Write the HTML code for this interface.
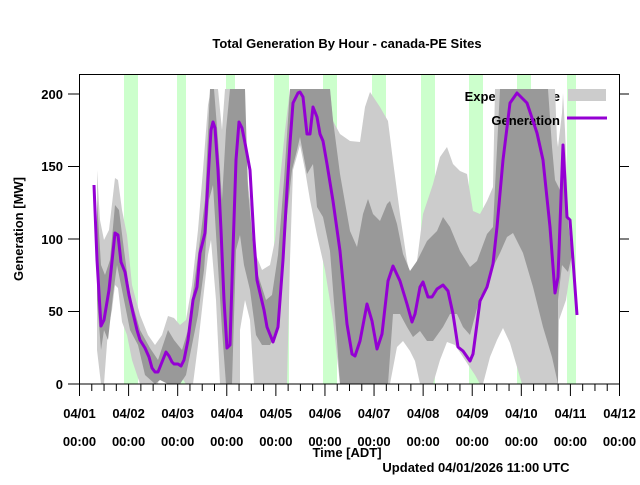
<!DOCTYPE html>
<html><head><meta charset="utf-8"><style>
body{margin:0;background:#fff}
svg text{font-family:"Liberation Sans Narrow","Liberation Sans",sans-serif;font-weight:bold;font-size:13px;fill:#000}
</style></head><body>
<svg width="640" height="480" xmlns="http://www.w3.org/2000/svg">
<rect width="640" height="480" fill="#fff"/>
<g fill="#ccffcc">
<rect x="124" y="75" width="14" height="309"/>
<rect x="177" y="75" width="9" height="309"/>
<rect x="226" y="75" width="9" height="309"/>
<rect x="274" y="75" width="15" height="309"/>
<rect x="323" y="75" width="14" height="309"/>
<rect x="372" y="75" width="14" height="309"/>
<rect x="421" y="75" width="14" height="309"/>
<rect x="469" y="75" width="14" height="309"/>
<rect x="517" y="75" width="14" height="309"/>
<rect x="567" y="75" width="9" height="309"/>
</g>
<text x="560" y="101" text-anchor="end">Expected Value</text>
<polygon fill="#cccccc" points="97,170 100,220 104,240 109,230 115,178 118,180 122,210 127,235 132,285 140,315 148,335 155,345 162,335 168,316 174,318 180,325 186,320 192,285 198,230 203,170 208,105 211,89 218,89 222,130 225,89 236,89 245,160 250,200 256,255 262,270 270,265 275,240 280,180 285,130 290,89 330,89 333,121 340,134 350,141 360,142 365,107 370,92 380,107 388,121 393,161 400,214 407,261 410,274 417,261 423,214 433,184 440,157 447,147 453,164 460,171 467,174 473,211 480,214 487,201 493,187 495,89 555,89 557,140 558,147 562,113 563,93 565,130 567,180 568,213 570,247 572,260 566,300 559,320 558,384 522,384 517,367 510,343 503,328 497,340 490,357 483,384 480,384 475,375 465,360 455,345 447,342 440,360 433,384 420,384 415,361 410,351 403,341 397,347 390,384 340,384 333,320 325,270 317,235 310,200 305,170 300,145 293,170 290,260 287,384 254,384 250,320 245,300 240,330 240,384 220,384 216,300 211,240 208,255 203,300 198,345 193,384 186,384 178,372 170,355 160,372 158,384 140,384 132,360 127,335 122,322 118,288 115,285 112,310 108,330 104,384 101,384 97,350"/>
<polygon fill="#999999" points="97,200 101,265 105,275 110,260 115,205 119,210 124,250 130,295 140,330 150,348 158,360 163,345 168,330 174,340 182,350 188,330 194,285 200,240 205,200 210,89 214,89 218,140 222,200 226,130 230,89 245,89 248,190 253,245 258,275 266,300 272,295 278,255 284,180 290,89 330,89 333,120 340,174 350,231 357,247 363,214 368,199 373,214 380,221 387,204 390,201 397,224 403,254 410,271 417,261 427,241 437,231 443,217 450,227 460,251 470,267 477,261 487,234 493,227 500,89 548,89 552,147 555,180 560,190 563,157 566,197 568,220 570,240 572,255 568,272 562,265 558,300 558,384 552,357 543,327 533,287 523,253 513,233 507,237 500,253 493,267 487,287 480,297 470,335 463,327 457,314 450,314 443,327 433,341 427,341 420,331 413,337 407,327 400,314 393,314 388,384 340,384 337,341 330,251 323,217 317,207 313,164 307,174 300,137 297,150 292,170 287,215 282,290 278,330 270,345 262,345 256,335 250,290 244,265 240,235 236,250 232,384 226,384 222,330 217,250 213,185 209,200 204,270 198,315 192,345 186,375 180,384 168,384 160,380 155,384 145,375 138,345 130,330 122,290 117,265 113,295 108,340 104,330 101,350 97,300"/>
<rect x="568" y="89" width="38" height="12" fill="#cccccc"/>
<text x="560" y="125" text-anchor="end">Generation</text>
<polyline fill="none" stroke="#9400d3" stroke-width="3" stroke-linejoin="round" points="94,185 97,260 101,326 104,320 109,290 115,233 118,235 121,262 125,272 129,295 133,313 137,330 140,340 145,348 149,357 152,368 155,372 158,372 162,362 166,352 169,356 172,362 174,364 178,364 181,366 184,360 188,340 193,300 197,287 200,253 205,233 208,180 211,130 213,122 215,128 218,170 221,230 224,300 227,348 230,345 233,250 236,160 239,122 242,128 245,143 250,170 254,240 257,280 260,293 264,310 267,327 273,342 278,327 283,260 287,190 290,143 293,103 298,93 300,92 303,97 307,134 310,134 313,107 317,117 320,134 323,141 327,164 333,201 340,251 347,324 352,354 355,356 360,341 367,304 372,321 377,349 382,334 388,281 393,266 400,281 407,304 412,322 415,314 420,287 423,282 428,297 432,297 437,289 443,285 448,291 453,314 458,347 463,351 470,361 473,354 480,301 487,287 493,264 497,227 503,160 510,103 517,93 527,103 537,133 543,160 550,227 555,293 558,277 563,145 567,217 570,220 573,260 577,315"/>
<line x1="567" y1="118" x2="607" y2="118" stroke="#9400d3" stroke-width="3"/>
<rect x="79.5" y="74.5" width="540" height="309.5" fill="none" stroke="#000" stroke-width="1"/>
<g stroke="#000" stroke-width="1">
<line x1="68" y1="384" x2="79" y2="384"/><line x1="68" y1="311.5" x2="79" y2="311.5"/><line x1="68" y1="239" x2="79" y2="239"/><line x1="68" y1="166.5" x2="79" y2="166.5"/><line x1="68" y1="94" x2="79" y2="94"/>
<line x1="619" y1="311.5" x2="629" y2="311.5"/><line x1="619" y1="239" x2="629" y2="239"/><line x1="619" y1="166.5" x2="629" y2="166.5"/><line x1="619" y1="94" x2="629" y2="94"/>
</g>
<g stroke="#000" stroke-width="1" id="tk"></g>
<text x="63" y="389" text-anchor="end">0</text>
<text x="63" y="316" text-anchor="end">50</text>
<text x="63" y="244" text-anchor="end">100</text>
<text x="63" y="171" text-anchor="end">150</text>
<text x="63" y="99" text-anchor="end">200</text>
<g text-anchor="middle" id="xl"></g>
<text x="347" y="48" text-anchor="middle">Total Generation By Hour - canada-PE Sites</text>
<text transform="translate(23,229) rotate(-90)" text-anchor="middle">Generation [MW]</text>
<text x="347" y="457" text-anchor="middle">Time [ADT]</text>
<text x="476" y="472" text-anchor="middle">Updated 04/01/2026 11:00 UTC</text>
</svg>
<script>
var g=document.getElementById('tk'),xl=document.getElementById('xl'),ns='http://www.w3.org/2000/svg';
for(var i=0;i<=44;i++){var x=79.5+i*540/44;var l=document.createElementNS(ns,'line');l.setAttribute('x1',x);l.setAttribute('x2',x);l.setAttribute('y1',384);l.setAttribute('y2',i%4==0?396:391);g.appendChild(l);}
for(var d=0;d<=11;d++){var x=79.5+d*540/11;var dd=d+1;var s='04/'+(dd<10?'0'+dd:dd);
var t=document.createElementNS(ns,'text');t.setAttribute('x',x);t.setAttribute('y',418);t.textContent=s;xl.appendChild(t);
var t2=document.createElementNS(ns,'text');t2.setAttribute('x',x);t2.setAttribute('y',446);t2.textContent='00:00';xl.appendChild(t2);}
</script>
</body></html>
